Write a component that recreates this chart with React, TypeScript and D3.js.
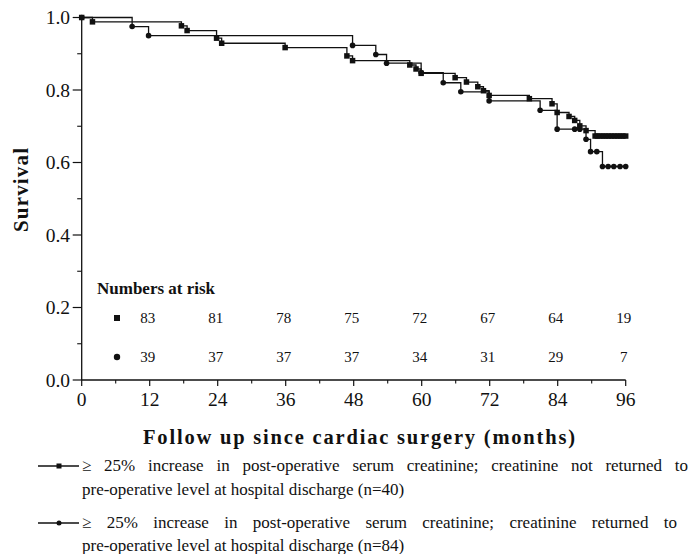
import React, { useLayoutEffect, useRef } from "react";
import * as d3 from "d3";

// Kaplan-Meier steps (months, survival)
const squareTimes = [0, 1.9, 17.6, 18.6, 23.8, 24.7, 35.9, 46.8, 47.8, 57.9, 59.0, 59.9, 65.9, 67.9, 69.9, 70.9, 71.9, 79.0, 83.0, 83.9, 86.0, 87.0, 87.9, 89.0, 90.6];
const squareSurv = [1.0, 0.988, 0.977, 0.964, 0.943, 0.929, 0.917, 0.894, 0.881, 0.869, 0.858, 0.846, 0.834, 0.822, 0.809, 0.798, 0.785, 0.776, 0.762, 0.738, 0.727, 0.716, 0.701, 0.688, 0.673];
const squareCensorTimes = [91.0, 91.5, 92.0, 92.5, 93.0, 93.5, 94.0, 94.5, 95.0, 95.5, 96.0];

const circleTimes = [0, 8.9, 11.8, 47.8, 51.9, 53.8, 59.9, 63.8, 66.9, 71.9, 80.9, 83.9, 89.0, 89.8, 91.9];
const circleSurv = [1.0, 0.975, 0.95, 0.923, 0.898, 0.874, 0.848, 0.82, 0.795, 0.77, 0.744, 0.692, 0.664, 0.63, 0.589];
const circleCensorTimes = [87.0, 87.9, 90.9, 92.9, 93.9, 95.0, 96.0];

const riskMonths = [12, 24, 36, 48, 60, 72, 84, 96];
const riskSquare = [83, 81, 78, 75, 72, 67, 64, 19];
const riskCircle = [39, 37, 37, 37, 34, 31, 29, 7];

const xTicks = [0, 12, 24, 36, 48, 60, 72, 84, 96];
const xMinorTicks = [6, 18, 30, 42, 54, 66, 78, 90];
const yTicks = [0, 0.2, 0.4, 0.6, 0.8, 1.0];
const yMinorTicks = [0.1, 0.3, 0.5, 0.7, 0.9];

const legendSquareLines = [
  "\u2265 25% increase in post-operative serum creatinine; creatinine not returned to",
  "pre-operative level at hospital discharge (n=40)",
];
const legendCircleLines = [
  "\u2265 25% increase in post-operative serum creatinine; creatinine returned to",
  "pre-operative level at hospital discharge (n=84)",
];

const FONT = "'Liberation Serif', 'Times New Roman', serif";
const INK = "#111";

function JustifiedText(props: { x: number; y: number; width: number; size: number; text: string }) {
  const ref = useRef<SVGTextElement>(null);
  useLayoutEffect(() => {
    const el = ref.current;
    if (!el) return;
    el.style.wordSpacing = "0px";
    const natural = el.getComputedTextLength();
    const spaces = (props.text.match(/ /g) || []).length;
    if (spaces > 0 && natural < props.width) {
      el.style.wordSpacing = `${(props.width - natural) / spaces}px`;
    }
  }, [props.text, props.width]);
  return (
    <text ref={ref} x={props.x} y={props.y} fontSize={props.size} fill={INK}>
      {props.text}
    </text>
  );
}

export default function App() {
  const x = d3.scaleLinear().domain([0, 96]).range([81.7, 625.7]);
  const y = d3.scaleLinear().domain([0, 1]).range([380, 17.5]);

  const stepLine = d3
    .line<[number, number]>()
    .x((d) => x(d[0]))
    .y((d) => y(d[1]))
    .curve(d3.curveStepAfter);

  const sqPts: [number, number][] = squareTimes.map((t, i) => [t, squareSurv[i]]);
  const sqLast = squareSurv[squareSurv.length - 1];
  const sqPath = stepLine([...sqPts, [squareCensorTimes[squareCensorTimes.length - 1], sqLast]]) || "";

  const ciPts: [number, number][] = circleTimes.map((t, i) => [t, circleSurv[i]]);
  const ciLast = circleSurv[circleSurv.length - 1];
  const ciPath = stepLine([...ciPts, [circleCensorTimes[circleCensorTimes.length - 1], ciLast]]) || "";

  const survAt = (times: number[], surv: number[], t: number) => {
    let s = surv[0];
    for (let i = 0; i < times.length; i++) if (times[i] <= t) s = surv[i];
    return s;
  };

  const sqMarkers: [number, number][] = [
    ...sqPts,
    ...squareCensorTimes.map((t) => [t, survAt(squareTimes, squareSurv, t)] as [number, number]),
  ];
  const ciMarkers: [number, number][] = [
    ...ciPts,
    ...circleCensorTimes.map((t) => [t, survAt(circleTimes, circleSurv, t)] as [number, number]),
  ];

  const sq = 5.5;
  const cr = 2.8;

  return (
    <svg
      width={699}
      height={554}
      style={{ position: "absolute", left: 0, top: 0, background: "#fff" }}
      fontFamily={FONT}
    >
      <rect x={0} y={0} width={699} height={554} fill="#fff" />

      {/* Y axis */}
      <line x1={x(0)} x2={x(0)} y1={y(1) - 1} y2={y(0)} stroke={INK} strokeWidth={1.3} />
      {yTicks.map((t) => (
        <g key={"yt" + t}>
          <line x1={x(0) - 9} x2={x(0)} y1={y(t)} y2={y(t)} stroke={INK} strokeWidth={1.2} />
          <text x={70} y={y(t) + 6.5} fontSize={19.5} textAnchor="end" fill={INK}>
            {d3.format(".1f")(t)}
          </text>
        </g>
      ))}
      {yMinorTicks.map((t) => (
        <line key={"ym" + t} x1={x(0) - 4.5} x2={x(0)} y1={y(t)} y2={y(t)} stroke={INK} strokeWidth={1.1} />
      ))}
      <text
        transform={`translate(28, ${190}) rotate(-90)`}
        fontSize={21}
        fontWeight="bold"
        textAnchor="middle"
        textLength={84}
        lengthAdjust="spacing"
        fill={INK}
      >
        Survival
      </text>

      {/* X axis */}
      <line x1={x(0)} x2={x(96)} y1={y(0)} y2={y(0)} stroke={INK} strokeWidth={1.3} />
      {xTicks.map((t) => (
        <g key={"xt" + t}>
          <line x1={x(t)} x2={x(t)} y1={y(0)} y2={y(0) + 6} stroke={INK} strokeWidth={1.2} />
          <text x={x(t)} y={406} fontSize={19.5} textAnchor="middle" fill={INK}>
            {t}
          </text>
        </g>
      ))}
      {xMinorTicks.map((t) => (
        <line key={"xm" + t} x1={x(t)} x2={x(t)} y1={y(0)} y2={y(0) + 3.5} stroke={INK} strokeWidth={1.1} />
      ))}
      <text
        x={143}
        y={444}
        fontSize={20.5}
        fontWeight="bold"
        textLength={432}
        lengthAdjust="spacing"
        fill={INK}
      >
        Follow up since cardiac surgery (months)
      </text>

      {/* Curves */}
      <path d={ciPath} fill="none" stroke={INK} strokeWidth={1.3} />
      <path d={sqPath} fill="none" stroke={INK} strokeWidth={1.3} />
      {ciMarkers.map((d, i) => (
        <circle key={"cm" + i} cx={x(d[0])} cy={y(d[1])} r={cr} fill={INK} />
      ))}
      {sqMarkers.map((d, i) => (
        <rect key={"sm" + i} x={x(d[0]) - sq / 2} y={y(d[1]) - sq / 2} width={sq} height={sq} fill={INK} />
      ))}

      {/* Numbers at risk */}
      <text x={97} y={294} fontSize={17} fontWeight="bold" fill={INK}>
        Numbers at risk
      </text>
      <rect x={117 - 3} y={318 - 3} width={6} height={6} fill={INK} />
      <circle cx={117} cy={357} r={3.2} fill={INK} />
      {riskMonths.map((m, i) => (
        <g key={"r" + m}>
          <text x={x(m) - 2} y={323} fontSize={15} textAnchor="middle" fill={INK}>
            {riskSquare[i]}
          </text>
          <text x={x(m) - 2} y={362} fontSize={15} textAnchor="middle" fill={INK}>
            {riskCircle[i]}
          </text>
        </g>
      ))}

      {/* Legend */}
      <line x1={38} x2={79} y1={466} y2={466} stroke={INK} strokeWidth={1.3} />
      <rect x={59 - 2.5} y={466 - 2.5} width={5} height={5} fill={INK} />
      <JustifiedText x={82} y={471} width={606} size={17} text={legendSquareLines[0]} />
      <text x={82} y={495} fontSize={17} fill={INK}>
        {legendSquareLines[1]}
      </text>
      <line x1={38} x2={79} y1={523} y2={523} stroke={INK} strokeWidth={1.3} />
      <circle cx={59} cy={523} r={2.5} fill={INK} />
      <JustifiedText x={82} y={528} width={595} size={17} text={legendCircleLines[0]} />
      <text x={82} y={551} fontSize={17} fill={INK}>
        {legendCircleLines[1]}
      </text>
    </svg>
  );
}
